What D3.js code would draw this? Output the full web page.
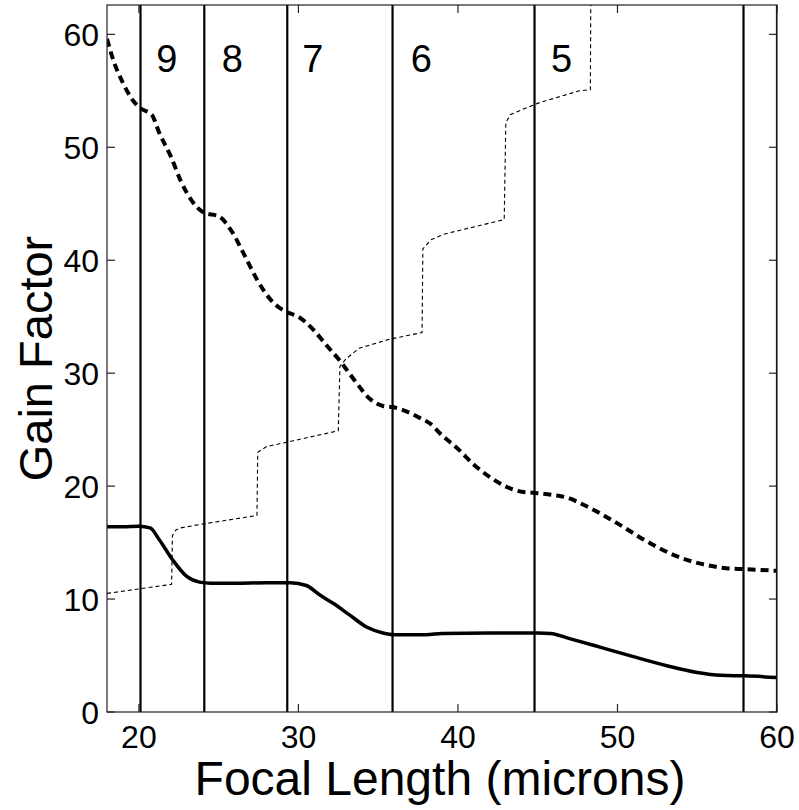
<!DOCTYPE html>
<html>
<head>
<meta charset="utf-8">
<script src="https://cdn.jsdelivr.net/npm/d3@7"></script>
<style>
  body { margin: 0; background: #fff; }
  svg { display: block; font-family: "Liberation Sans", Arial, sans-serif; }
</style>
</head>
<body>
<svg id="chart" width="799" height="810"></svg>
<script>
// solid thick curve
const solidX = [18, 19, 20, 20.7, 21.3, 22.1, 23.0, 23.8, 24.5, 26, 28, 29.5, 30.5, 31.3, 32.2, 33.2, 34.3, 35.3, 36, 38, 39, 42, 45, 45.8, 47, 48.9, 51, 53.1, 55, 56.5, 58, 60]
const solidY = [16.4, 16.4, 16.45, 16.3, 15.2, 13.5, 12.0, 11.5, 11.4, 11.4, 11.45, 11.45, 11.2, 10.4, 9.6, 8.6, 7.5, 7.0, 6.85, 6.85, 6.95, 7.0, 7.0, 6.95, 6.5, 5.75, 4.9, 4.1, 3.5, 3.25, 3.2, 3.05]

// thick dashed curve
const dashX = [18, 18.4, 19.0, 19.6, 20.1, 20.8, 21.3, 22, 22.6, 23.3, 24.1, 25.0, 25.8, 26.6, 27.4, 28.2, 28.8, 29.3, 30, 30.9, 31.8, 32.6, 33.5, 34.5, 35.3, 35.9, 36.8, 37.8, 38.2, 39, 40, 41, 42, 43.1, 44, 44.8, 46, 46.8, 47.8, 48.9, 50, 50.8, 51.6, 52.5, 53.7, 55, 56, 57, 57.9, 60]
const dashY = [59.6, 57.7, 55.7, 54.2, 53.45, 52.9, 51.2, 49.2, 47.1, 45.3, 44.2, 43.9, 42.6, 40.5, 38.3, 36.6, 35.8, 35.4, 35.0, 33.9, 32.4, 31.1, 29.4, 27.7, 27.1, 27.0, 26.6, 25.9, 25.6, 24.5, 23.3, 21.9, 20.8, 19.9, 19.5, 19.4, 19.2, 19.0, 18.4, 17.6, 16.7, 16.0, 15.3, 14.6, 13.8, 13.2, 12.9, 12.7, 12.65, 12.5]

// thin dotted staircase
const stairX = [18, 20, 22.05, 22.1, 22.3, 22.6, 23.8, 27.4, 27.45, 28.0, 29.3, 32.5, 32.6, 33.0, 33.8, 35.7, 37.75, 37.8, 38.3, 39.1, 42.9, 43.0, 43.3, 44.3, 45.2, 45.7, 47.6, 48.3, 48.35]
const stairY = [10.5, 10.9, 11.3, 15.6, 16.1, 16.3, 16.6, 17.4, 23.0, 23.5, 23.9, 24.9, 30.6, 31.3, 32.2, 33.0, 33.6, 41.0, 41.8, 42.3, 43.6, 52.2, 52.9, 53.5, 54.0, 54.2, 55.0, 55.1, 70]

// regime boundaries and labels
const boundaries = [20.1, 24.1, 29.3, 35.9, 44.8, 57.9, 60]
const regimeLabels = ['9', '8', '7', '6', '5']
const regimeLabelX = [21.75, 25.85, 30.9, 37.7, 46.5]
const regimeLabelY = 56.7

const xTicks = [20, 30, 40, 50, 60]
const yTicks = [0, 10, 20, 30, 40, 50, 60]

const svg = d3.select('#chart')
const m = { left: 107, right: 777, top: 5, bottom: 712 }

const x = d3.scaleLinear().domain([18, 60]).range([m.left, m.right])
const y = d3.scaleLinear().domain([0, 62.6]).range([m.bottom, m.top])

svg.append('defs').append('clipPath').attr('id', 'clip')
  .append('rect').attr('x', m.left).attr('y', m.top)
  .attr('width', m.right - m.left).attr('height', m.bottom - m.top)

const plot = svg.append('g').attr('clip-path', 'url(#clip)')

plot.selectAll('line.bound').data(boundaries).join('line')
  .attr('class', 'bound')
  .attr('x1', (d) => x(d)).attr('x2', (d) => x(d))
  .attr('y1', m.top).attr('y2', m.bottom)
  .attr('stroke', '#000').attr('stroke-width', 2.2)

const toPts = (xs, ys) => xs.map((v, i) => [v, ys[i]])

const smooth = d3.line().x((d) => x(d[0])).y((d) => y(d[1])).curve(d3.curveMonotoneX)
const straight = d3.line().x((d) => x(d[0])).y((d) => y(d[1]))

plot.append('path').attr('d', straight(toPts(stairX, stairY)))
  .attr('fill', 'none').attr('stroke', '#000').attr('stroke-width', 1.1)
  .attr('stroke-dasharray', '4,3')

plot.append('path').attr('d', smooth(toPts(dashX, dashY)))
  .attr('fill', 'none').attr('stroke', '#000').attr('stroke-width', 4)
  .attr('stroke-dasharray', '8,5')

plot.append('path').attr('d', smooth(toPts(solidX, solidY)))
  .attr('fill', 'none').attr('stroke', '#000').attr('stroke-width', 3.5)

// axes box with inward ticks on all sides
const box = svg.append('g')
box.append('rect').attr('x', m.left).attr('y', m.top)
  .attr('width', m.right - m.left).attr('height', m.bottom - m.top)
  .attr('fill', 'none').attr('stroke', '#222').attr('stroke-width', 1.2)

const tl = 8
box.selectAll('line.xb').data(xTicks).join('line').attr('class', 'xb')
  .attr('x1', (d) => x(d)).attr('x2', (d) => x(d)).attr('y1', m.bottom).attr('y2', m.bottom - tl)
  .attr('stroke', '#222').attr('stroke-width', 1.2)
box.selectAll('line.xt').data(xTicks).join('line').attr('class', 'xt')
  .attr('x1', (d) => x(d)).attr('x2', (d) => x(d)).attr('y1', m.top).attr('y2', m.top + tl)
  .attr('stroke', '#222').attr('stroke-width', 1.2)
box.selectAll('line.yl').data(yTicks).join('line').attr('class', 'yl')
  .attr('x1', m.left).attr('x2', m.left + tl).attr('y1', (d) => y(d)).attr('y2', (d) => y(d))
  .attr('stroke', '#222').attr('stroke-width', 1.2)
box.selectAll('line.yr').data(yTicks).join('line').attr('class', 'yr')
  .attr('x1', m.right).attr('x2', m.right - tl).attr('y1', (d) => y(d)).attr('y2', (d) => y(d))
  .attr('stroke', '#222').attr('stroke-width', 1.2)

svg.selectAll('text.xtl').data(xTicks).join('text').attr('class', 'xtl')
  .attr('x', (d) => x(d)).attr('y', 748)
  .attr('text-anchor', 'middle').attr('font-size', 32).text((d) => d)

svg.selectAll('text.ytl').data(yTicks).join('text').attr('class', 'ytl')
  .attr('x', 99).attr('y', (d) => y(d)).attr('dy', '0.36em')
  .attr('text-anchor', 'end').attr('font-size', 32).text((d) => d)

svg.selectAll('text.reg').data(regimeLabels).join('text').attr('class', 'reg')
  .attr('x', (d, i) => x(regimeLabelX[i])).attr('y', y(regimeLabelY))
  .attr('text-anchor', 'middle').attr('font-size', 38).text((d) => d)

svg.append('text').attr('x', 440).attr('y', 795)
  .attr('text-anchor', 'middle').attr('font-size', 48).text('Focal Length (microns)')

svg.append('text').attr('transform', `translate(52,${(m.top + m.bottom) / 2}) rotate(-90)`)
  .attr('text-anchor', 'middle').attr('font-size', 47).text('Gain Factor')
</script>
</body>
</html>
